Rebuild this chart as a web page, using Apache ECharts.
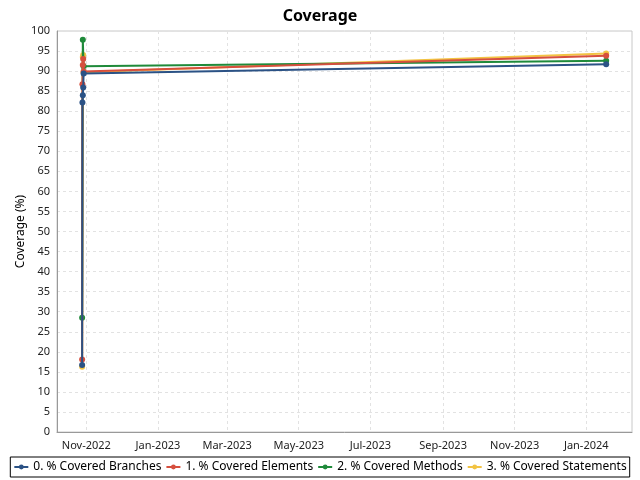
<!DOCTYPE html>
<html><head><meta charset="utf-8">
<script src="https://cdn.jsdelivr.net/npm/echarts@6/dist/echarts.min.js"></script>
<style>html,body{margin:0;padding:0;background:#fff}#c{width:640px;height:480px}</style>
</head><body><div id="c"></div>
<script>
const seriesNames = ['0. % Covered Branches','1. % Covered Elements','2. % Covered Methods','3. % Covered Statements'];
const colors = ['#2b5285','#d64f3e','#1f8a3a','#f2c343'];
const branchDates = ['2022-10-28T10:00','2022-10-28T16:00','2022-10-29T00:00','2022-10-29T08:00','2022-10-29T16:00','2024-01-18T00:00'];
const branchValues = [16.7, 82.2, 84.0, 85.9, 89.4, 91.7];
const elementDates = ['2022-10-28T10:00','2022-10-28T16:00','2022-10-29T00:00','2022-10-29T08:00','2022-10-29T16:00','2024-01-18T00:00'];
const elementValues = [18.1, 86.7, 91.5, 93.0, 89.9, 93.8];
const methodDates = ['2022-10-28T10:00','2022-10-29T00:00','2022-10-29T16:00','2024-01-18T00:00'];
const methodValues = [28.5, 97.8, 91.2, 92.6];
const statementDates = ['2022-10-28T10:00','2022-10-29T00:00','2022-10-29T08:00','2022-10-29T16:00','2024-01-18T00:00'];
const statementValues = [16.3, 93.5, 94.0, 89.7, 94.4];
const xTicks = ['2022-11-01','2023-01-01','2023-03-01','2023-05-01','2023-07-01','2023-09-01','2023-11-01','2024-01-01'];
const months = ['Jan','Feb','Mar','Apr','May','Jun','Jul','Aug','Sep','Oct','Nov','Dec'];

const allDates = [branchDates, elementDates, methodDates, statementDates];
const allValues = [branchValues, elementValues, methodValues, statementValues];
const tickTs = xTicks.map(d => new Date(d + 'T00:00:00').getTime());

const chart = echarts.init(document.getElementById('c'));
chart.setOption({
  animation: false,
  textStyle: {fontFamily: 'Noto Sans'},
  title: {text: 'Coverage', left: 'center', top: 3, textStyle: {fontSize: 16, fontWeight: 'bold', color: '#000', fontFamily: 'Noto Sans'}},
  grid: {left: 57, right: 8, top: 31, bottom: 48, show: true, borderColor: '#c8c8c8', borderWidth: 1},
  legend: {
    bottom: 3, left: 'center', width: 640,
    borderColor: '#000', borderWidth: 1, padding: [4, 3],
    itemGap: 4, itemWidth: 14, itemHeight: 6,
    textStyle: {fontSize: 12, color: '#000', fontFamily: 'Noto Sans'},
    data: seriesNames
  },
  xAxis: {
    type: 'value',
    min: new Date('2022-10-07T00:00:00').getTime(),
    max: new Date('2024-02-09T00:00:00').getTime(),
    axisLine: {lineStyle: {color: '#999'}},
    axisTick: {show: false, customValues: tickTs},
    axisLabel: {
      customValues: tickTs, color: '#222', fontSize: 11, margin: 8,
      formatter: v => { const d = new Date(v); return months[d.getMonth()] + '-' + d.getFullYear(); }
    },
    splitLine: {show: true, lineStyle: {color: '#e2e2e2', type: [3, 3]}}
  },
  yAxis: {
    type: 'value', min: 0, max: 100, interval: 5,
    name: 'Coverage (%)', nameLocation: 'middle', nameGap: 30, nameRotate: 90,
    nameMoveOverlap: false,
    nameTextStyle: {fontSize: 12, color: '#000'},
    axisLine: {show: true, lineStyle: {color: '#999'}},
    axisTick: {show: false},
    axisLabel: {color: '#222', fontSize: 11, margin: 7},
    splitLine: {show: true, lineStyle: {color: '#e2e2e2', type: [3, 3]}}
  },
  series: seriesNames.map((n, i) => ({
    name: n, type: 'line', color: colors[i], z: 10 - i,
    symbol: 'circle', symbolSize: 6, showAllSymbol: true,
    lineStyle: {width: 2},
    data: allDates[i].map((d, j) => [new Date(d).getTime(), allValues[i][j]])
  }))
});
</script></body></html>
